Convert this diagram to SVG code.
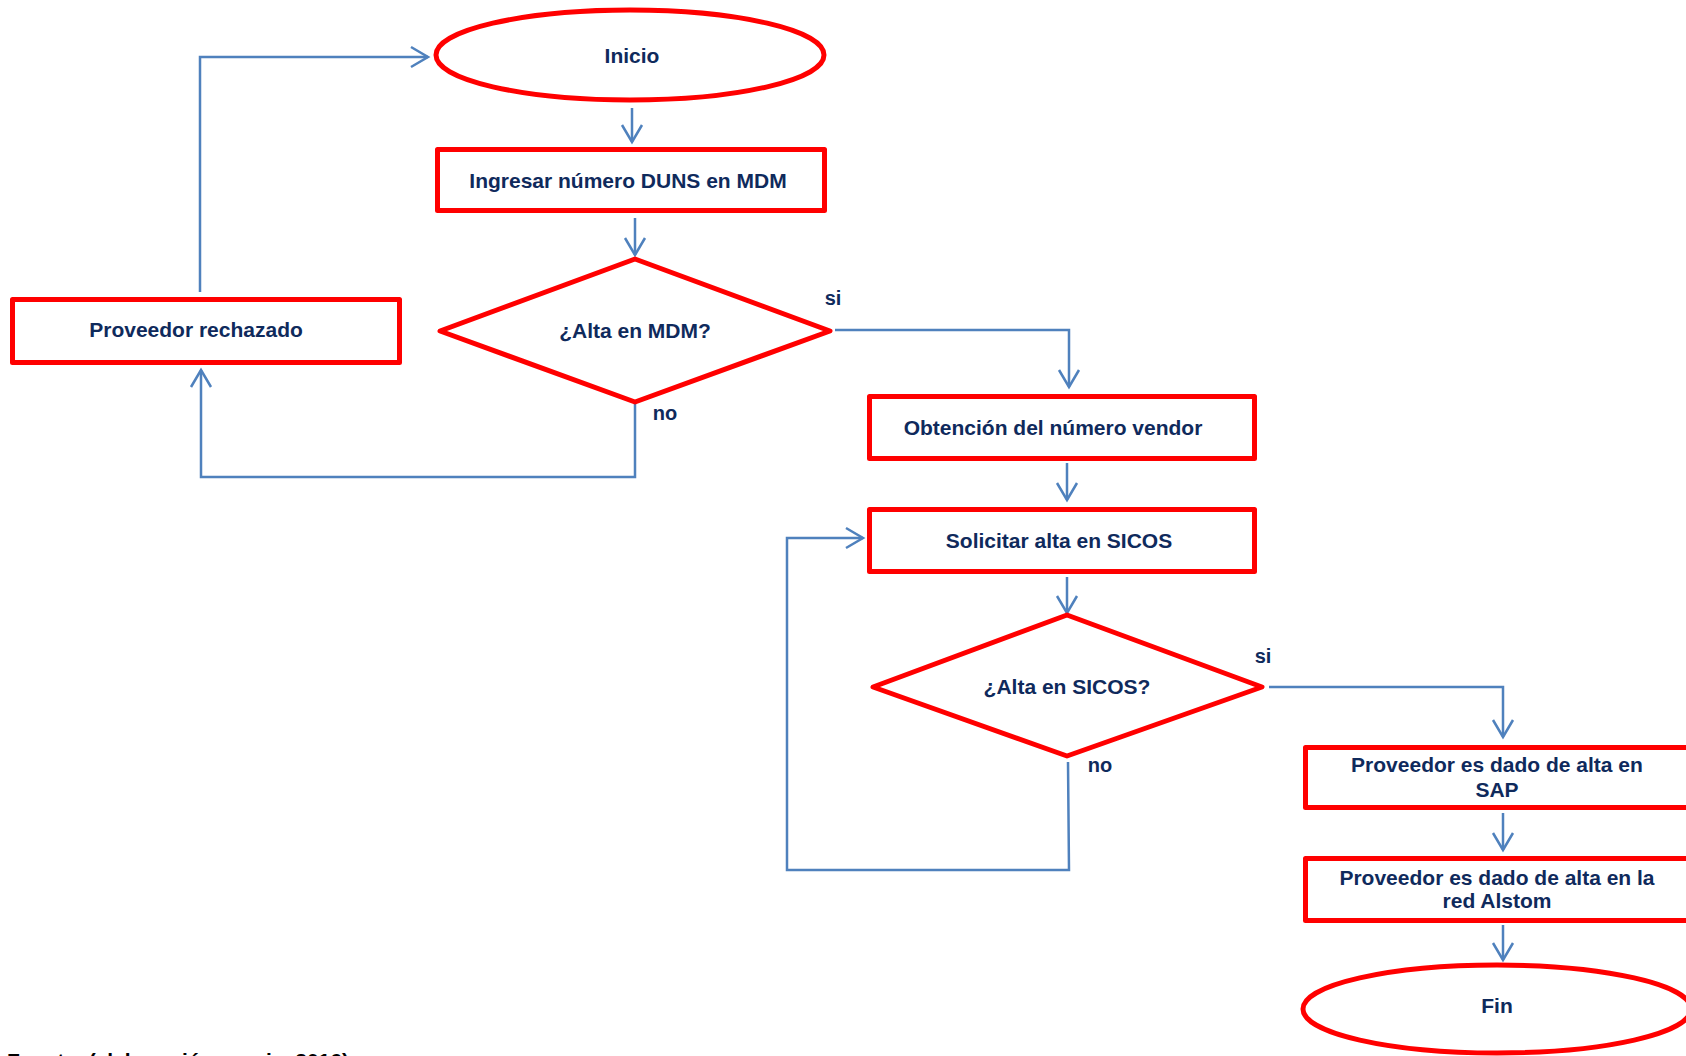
<svg xmlns="http://www.w3.org/2000/svg" width="1686" height="1056" viewBox="0 0 1686 1056">
  <defs>
    <style>
      .shape { fill: #ffffff; stroke: #ff0000; stroke-width: 5; stroke-linejoin: round; }
      .lbl { font-family: "Liberation Sans", Arial, sans-serif; font-weight: bold; font-size: 21px; fill: #0f2a5c; text-anchor: middle; }
      .tag { font-family: "Liberation Sans", Arial, sans-serif; font-weight: bold; font-size: 20px; fill: #0f2a5c; text-anchor: middle; }
      .note { font-family: "Liberation Sans", Arial, sans-serif; font-weight: bold; font-size: 21px; fill: #000000; }
      .conn { fill: none; stroke: #4f81bd; stroke-width: 2.5; stroke-linejoin: miter; marker-end: url(#open-arrow); }
    </style>
    <marker id="open-arrow" markerUnits="userSpaceOnUse" markerWidth="24" markerHeight="26" viewBox="-20 -13 22 26" refX="0" refY="0" orient="auto">
      <path d="M-17,-10 L0,0 L-17,10" fill="none" stroke="#4f81bd" stroke-width="2.5"/>
    </marker>
  </defs>

  <!-- connectors -->
  <g id="connectors">
    <path class="conn" d="M632,108 L632,142"/>
    <path class="conn" d="M635,218 L635,255"/>
    <path class="conn" d="M835,330 L1069,330 L1069,387"/>
    <path class="conn" d="M635,404 L635,477 L201,477 L201,370"/>
    <path class="conn" d="M200,292 L200,57 L428,57"/>
    <path class="conn" d="M1067,463 L1067,500"/>
    <path class="conn" d="M1067,577 L1067,613"/>
    <path class="conn" d="M1068,762 L1069,870 L787,870 L787,538 L863,538"/>
    <path class="conn" d="M1269,687 L1503,687 L1503,737"/>
    <path class="conn" d="M1503,813 L1503,850"/>
    <path class="conn" d="M1503,925 L1503,960"/>
  </g>

  <!-- branch labels -->
  <g id="branch-labels">
    <text class="tag" x="833" y="305">si</text>
    <text class="tag" x="665" y="420">no</text>
    <text class="tag" x="1263" y="663">si</text>
    <text class="tag" x="1100" y="772">no</text>
  </g>

  <g id="inicio">
    <ellipse class="shape" cx="630" cy="55" rx="194" ry="45"/>
    <text class="lbl" x="632" y="63">Inicio</text>
  </g>

  <g id="ingresar-duns">
    <rect class="shape" x="437.5" y="149.5" width="387" height="61"/>
    <text class="lbl" x="628" y="188">Ingresar número DUNS en MDM</text>
  </g>

  <g id="alta-mdm">
    <polygon class="shape" points="635,259 830,331 635,402 440,331"/>
    <text class="lbl" x="635" y="338">¿Alta en MDM?</text>
  </g>

  <g id="proveedor-rechazado">
    <rect class="shape" x="12.5" y="299.5" width="387" height="63"/>
    <text class="lbl" x="196" y="337">Proveedor rechazado</text>
  </g>

  <g id="obtencion-vendor">
    <rect class="shape" x="869.5" y="396.5" width="385" height="62"/>
    <text class="lbl" x="1053" y="435">Obtención del número vendor</text>
  </g>

  <g id="solicitar-sicos">
    <rect class="shape" x="869.5" y="509.5" width="385" height="62"/>
    <text class="lbl" x="1059" y="548">Solicitar alta en SICOS</text>
  </g>

  <g id="alta-sicos">
    <polygon class="shape" points="1067,615 1262,687 1067,756 873,687"/>
    <text class="lbl" x="1067" y="694">¿Alta en SICOS?</text>
  </g>

  <g id="alta-sap">
    <rect class="shape" x="1305.5" y="747.5" width="388" height="60"/>
    <text class="lbl" x="1497" y="772">Proveedor es dado de alta en</text>
    <text class="lbl" x="1497" y="797">SAP</text>
  </g>

  <g id="alta-red-alstom">
    <rect class="shape" x="1305.5" y="858.5" width="388" height="62"/>
    <text class="lbl" x="1497" y="885">Proveedor es dado de alta en la</text>
    <text class="lbl" x="1497" y="908">red Alstom</text>
  </g>

  <g id="fin">
    <ellipse class="shape" cx="1497" cy="1009" rx="194" ry="44"/>
    <text class="lbl" x="1497" y="1013">Fin</text>
  </g>

  <!-- source line along the bottom edge -->
  <text class="note" x="7" y="1068">Fuente: (elaboración propia, 2016)</text>
</svg>
